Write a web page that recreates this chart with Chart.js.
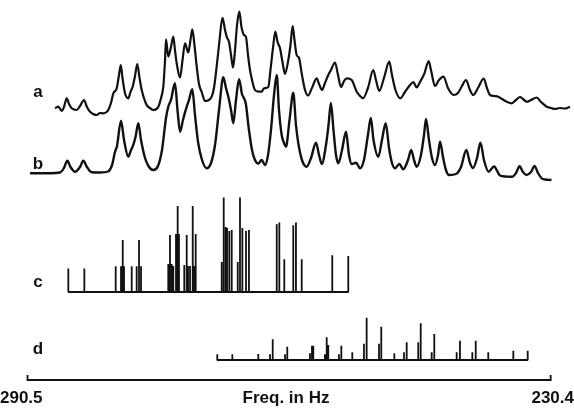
<!DOCTYPE html>
<html>
<head>
<meta charset="utf-8">
<script src="https://cdn.jsdelivr.net/npm/chart.js@4.4.0/dist/chart.umd.min.js"></script>
<style>
  html, body { margin: 0; padding: 0; background: #fff; }
  #spectrum { display: block; }
</style>
</head>
<body>
<canvas id="spectrum" width="574" height="408"></canvas>
<script>
// trace a - observed spectrum: frequency (Hz) and intensity
const freqA = [287.34, 286.96, 286.57, 286.31, 286.00, 285.73, 285.42, 284.85, 284.47, 284.01,
  283.67, 283.32, 282.55, 282.17, 281.79, 281.22, 280.91, 280.64, 280.25, 279.99,
  279.79, 279.59, 279.30, 278.92, 278.67, 278.42, 278.15, 277.89, 277.63, 277.38,
  276.81, 276.43, 276.05, 275.47, 275.16, 274.90, 274.70, 274.59, 274.33, 274.02,
  273.75, 273.56, 273.36, 272.98, 272.69, 272.41, 272.03, 271.78, 271.57, 271.32,
  271.06, 270.80, 270.49, 270.11, 269.77, 269.34, 269.08, 268.77, 268.50, 268.10,
  267.81, 267.62, 267.35, 267.12, 266.89, 266.66, 266.43, 266.17, 265.92, 265.63,
  265.40, 265.17, 264.94, 264.75, 264.37, 264.02, 263.60, 263.33, 262.84, 262.59,
  262.30, 262.03, 261.78, 261.49, 261.21, 260.92, 260.54, 260.29, 260.04, 259.83,
  259.58, 259.31, 258.97, 258.62, 258.28, 257.82, 257.28, 257.01, 256.67, 256.33,
  255.95, 255.64, 255.18, 254.83, 254.49, 254.14, 253.83, 253.26, 252.68, 252.30,
  251.96, 251.39, 250.78, 250.47, 250.09, 249.55, 248.94, 248.63, 248.23, 247.68,
  247.14, 246.56, 246.18, 245.79, 245.41, 244.90, 244.41, 244.15, 243.69, 243.23,
  242.71, 242.20, 241.56, 241.05, 240.59, 240.13, 239.67, 239.29, 238.75, 238.09,
  237.72, 237.37, 236.91, 236.42, 235.99, 235.45, 234.88, 234.38, 233.92, 233.58,
  233.16, 232.66, 232.01, 231.51, 230.86, 230.36, 229.90, 229.33, 228.75, 228.18];
const intA = [11.7, 13.3, 9, 13, 21.7, 16, 11.7, 10, 14, 20,
  13, 8.3, 5, 7, 6.7, 10, 17, 26.7, 31.7, 45,
  55, 42, 26.7, 21.7, 28, 33.3, 44, 56, 42, 30,
  15, 12, 10, 13.3, 22, 33.3, 60, 80.7, 63.3, 73,
  83.3, 70, 56.7, 42.5, 60, 76.7, 67.5, 80, 90.7, 75,
  53.3, 36, 28, 19, 19.5, 23.3, 32, 53.3, 75, 102.2,
  90, 83.3, 78, 65, 52.5, 70, 95, 108.3, 93, 85,
  83, 65, 50, 41.7, 30, 28.5, 28.3, 31.7, 33, 50,
  72, 88.3, 78, 71.7, 58, 46, 60, 75, 94, 80,
  65, 62, 45, 30, 24.5, 32, 41.7, 36, 30, 37,
  45, 50, 57.5, 45, 33, 39, 41.7, 40, 28.3, 24,
  21.7, 32, 50, 40, 29, 42, 58.3, 45, 30, 21.7,
  28, 35, 38, 32.5, 38, 46.7, 59, 50, 34, 40,
  43.3, 32, 25, 27, 34, 40, 30, 25, 32, 41.5,
  32, 25, 24, 23.3, 21, 18.3, 16.7, 20, 23, 21,
  18.3, 20, 22.5, 18, 13.3, 12, 11, 12, 11.5, 13.3];

// trace b - calculated spectrum
const freqB = [290.21, 287.92, 286.77, 286.31, 285.93, 285.56, 285.04, 284.47, 284.09, 283.67,
  283.13, 282.17, 281.25, 280.79, 280.45, 280.22, 279.76, 279.41, 278.92, 278.61,
  278.42, 278.09, 277.77, 277.46, 277.00, 276.54, 276.05, 275.51, 275.05, 274.59,
  274.33, 274.02, 273.56, 273.27, 272.98, 272.64, 272.21, 271.95, 271.57, 271.26,
  270.91, 270.45, 269.92, 269.42, 268.96, 268.50, 268.01, 267.70, 267.43, 267.12,
  266.86, 266.55, 266.20, 265.86, 265.43, 265.06, 264.71, 264.37, 263.99, 263.60,
  263.22, 262.87, 262.53, 262.18, 261.87, 261.61, 261.30, 261.03, 260.81, 260.40,
  259.97, 259.66, 259.39, 258.97, 258.43, 257.93, 257.36, 257.01, 256.70, 256.21,
  255.92, 255.65, 255.35, 255.06, 254.80, 254.37, 253.91, 253.57, 253.26, 252.76,
  252.30, 251.85, 251.39, 251.06, 250.75, 250.20, 249.78, 249.35, 248.97, 248.63,
  248.28, 247.79, 247.33, 246.79, 246.42, 246.10, 245.79, 245.30, 244.95, 244.72,
  244.38, 244.03, 243.69, 243.34, 243.11, 242.77, 242.43, 242.08, 241.28, 240.70,
  240.09, 239.67, 239.32, 238.86, 238.47, 238.06, 237.54, 236.91, 236.22, 235.53,
  234.84, 234.38, 233.97, 233.58, 233.20, 232.66, 232.25, 231.86, 231.43, 231.05,
  230.31];
const intB = [6.7, 6.8, 7.5, 12, 19.3, 13, 8.3, 13, 19.3, 13,
  7.7, 7.5, 8.5, 15, 28, 34, 59.3, 40, 23.3, 30,
  33.3, 43, 56.7, 40, 22, 13, 10, 14, 30, 62,
  73.3, 80, 96.7, 70, 48.3, 60, 73.3, 80, 90.7, 65,
  38, 20, 11.7, 17, 35, 70, 102.7, 92, 83.3, 70,
  56.7, 80, 100.7, 86, 76.7, 50, 30, 20, 16.5, 20,
  15, 25, 50, 85, 105, 70, 45, 37, 33.3, 60,
  87.3, 55, 36.7, 20, 13.3, 22, 37.3, 25, 16, 35,
  55, 77, 50, 25, 16.7, 30, 48.3, 25, 16, 17.3,
  11.7, 20, 45, 62, 40, 23.3, 40, 56.7, 32, 17,
  11.7, 16, 10.7, 20, 30, 20, 13.3, 25, 45, 61,
  40, 22, 15, 25, 38.3, 23, 10, 5, 6, 13,
  30, 17, 12, 22, 37.3, 20, 8.3, 13.5, 4.5, 3.5,
  3.2, 7, 13.7, 8, 5, 8, 14, 7, 1.7, 0.5,
  0];

// stick spectrum c - line positions and relative intensities
const freqC = [285.81, 283.97, 280.37, 279.76, 279.56, 279.41, 278.53, 277.96, 277.69, 277.46,
  274.33, 274.13, 273.94, 273.75, 273.44, 273.25, 273.10, 272.49, 272.21, 272.06,
  271.83, 271.52, 271.34, 271.18, 268.19, 267.96, 267.73, 267.58, 267.32, 267.04,
  266.35, 266.09, 265.82, 265.40, 265.06, 261.87, 261.57, 261.00, 259.97, 259.66,
  259.00, 255.49, 253.65];
const intC = [23.4, 23.4, 25.7, 25.7, 52, 25.7, 25.7, 25.7, 52, 25.7,
  28, 57, 28, 26, 58, 86, 58, 27, 57, 26,
  26, 86, 26, 58, 30, 94.5, 65, 64, 61, 62,
  30, 94.5, 64, 61, 62, 67.7, 69.5, 32.7, 66.7, 69.5,
  32.7, 36.7, 36];

// stick spectrum d
const freqD = [268.70, 266.97, 263.99, 262.64, 262.33, 260.92, 260.66, 258.05, 257.82, 257.67,
  256.33, 256.13, 255.95, 254.72, 254.45, 253.19, 251.85, 251.54, 250.12, 249.86,
  248.36, 247.25, 246.94, 245.61, 245.33, 244.07, 243.77, 241.20, 240.82, 239.40,
  239.01, 237.57, 234.69, 233.04];
const intD = [5.7, 5.7, 6, 5.7, 20.7, 5.7, 13.3, 6.7, 14.3, 14.3,
  5.7, 22.7, 15, 5.7, 14.3, 7.7, 16.3, 42.3, 16.3, 33.3,
  6.7, 7.7, 17.7, 17.7, 36.7, 7.7, 26, 7.7, 19.3, 7.7,
  19.3, 7.7, 9.3, 9.3];

// frequency axis
const axisEnds = [290.5, 230.4];
const axisLabels = ['290.5', '230.4'];
const axisTitle = 'Freq. in Hz';
const traceNames = ['a', 'b', 'c', 'd'];

// vertical stacking of the traces (canvas units, counted from the bottom)
const OFFSET_A = 288;
const OFFSET_B = 228;
const OFFSET_C = 116;
const OFFSET_D = 48;
const OFFSET_AXIS = 28;
const END_TICK = 5;

const INK = '#111';

function toPoints(freqs, vals, offset) {
  return freqs.map((f, i) => ({ x: f, y: offset + vals[i] }));
}

// one path: baseline with a spike up and back down at every line
function stickPath(freqs, vals, offset) {
  const pts = [];
  freqs.forEach((f, i) => {
    pts.push({ x: f, y: offset }, { x: f, y: offset + vals[i] }, { x: f, y: offset });
  });
  return pts;
}

const axisPath = [
  { x: axisEnds[0], y: OFFSET_AXIS + END_TICK },
  { x: axisEnds[0], y: OFFSET_AXIS },
  { x: axisEnds[1], y: OFFSET_AXIS },
  { x: axisEnds[1], y: OFFSET_AXIS + END_TICK }
];

// letters and axis texts
const textPlugin = {
  id: 'texts',
  afterDatasetsDraw(chart) {
    const ctx = chart.ctx;
    const y = chart.scales.y;
    ctx.save();
    ctx.fillStyle = INK;
    ctx.textBaseline = 'middle';
    ctx.font = 'bold 17px "Liberation Sans", Arial, sans-serif';
    ctx.textAlign = 'center';
    const letterY = [OFFSET_A + 28, OFFSET_B + 16, OFFSET_C + 10, OFFSET_D + 11];
    traceNames.forEach((name, i) => {
      ctx.fillText(name, 38, y.getPixelForValue(letterY[i]));
    });

    const labelY = y.getPixelForValue(OFFSET_AXIS) + 18;
    ctx.textAlign = 'left';
    ctx.fillText(axisLabels[0], 0, labelY);
    ctx.textAlign = 'right';
    ctx.fillText(axisLabels[1], 574, labelY);
    ctx.textAlign = 'center';
    ctx.fillText(axisTitle, 286, labelY);
    ctx.restore();
  }
};

const lineStyle = {
  borderColor: INK,
  pointRadius: 0,
  pointHoverRadius: 0,
  fill: false
};

new Chart(document.getElementById('spectrum'), {
  type: 'line',
  data: {
    datasets: [
      { ...lineStyle, label: 'a', data: toPoints(freqA, intA, OFFSET_A), borderWidth: 2.2, cubicInterpolationMode: 'monotone' },
      { ...lineStyle, label: 'b', data: toPoints(freqB, intB, OFFSET_B), borderWidth: 2.4, cubicInterpolationMode: 'monotone' },
      { ...lineStyle, label: 'c', data: stickPath(freqC, intC, OFFSET_C), borderWidth: 1.8, tension: 0, borderJoinStyle: 'bevel' },
      { ...lineStyle, label: 'd', data: stickPath(freqD, intD, OFFSET_D), borderWidth: 1.8, tension: 0, borderJoinStyle: 'bevel' },
      { ...lineStyle, label: 'axis', data: axisPath, borderWidth: 1.8, tension: 0 }
    ]
  },
  options: {
    responsive: false,
    devicePixelRatio: 1,
    animation: false,
    layout: { padding: 0, autoPadding: false },
    plugins: {
      legend: { display: false },
      tooltip: { enabled: false }
    },
    scales: {
      x: { type: 'linear', reverse: true, min: 227.72, max: 293.66, display: false },
      y: { type: 'linear', min: 0, max: 408, display: false }
    }
  },
  plugins: [textPlugin]
});
</script>
</body>
</html>
